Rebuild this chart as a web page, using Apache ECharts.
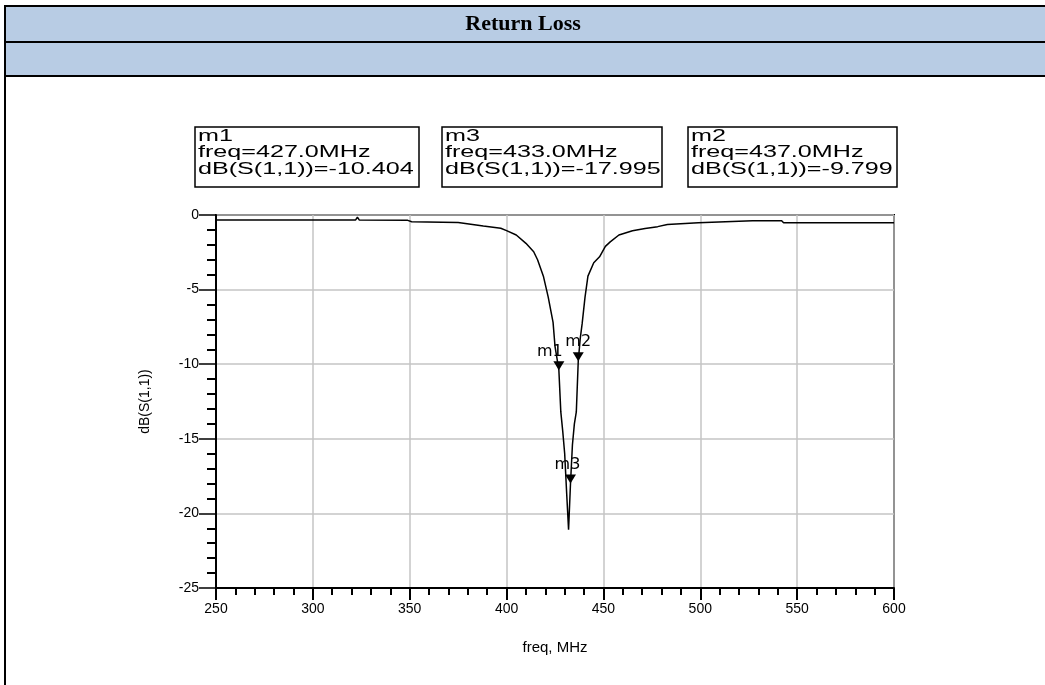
<!DOCTYPE html>
<html>
<head>
<meta charset="utf-8">
<script src="https://cdn.jsdelivr.net/npm/echarts@6/dist/echarts.min.js"></script>
<style>
html,body{margin:0;padding:0;background:#fff;}
#chart{width:1045px;height:685px;}
</style>
</head>
<body>
<div id="chart"></div>
<script>
// ---- data ----
const titleText = 'Return Loss';
const xAxisName = 'freq, MHz';
const yAxisName = 'dB(S(1,1))';
const freqMHz = [250, 322, 323, 324, 349, 351, 375, 388, 397, 400, 405, 410, 414, 416, 419, 421.5, 424, 425, 426, 427, 428, 429, 430, 431, 432, 433, 434, 435, 436, 437, 438, 439, 440.5, 442, 445, 448, 451, 453.5, 458, 465, 471.5, 478, 483, 499, 527, 542, 543, 600];
const s11dB   = [-0.34, -0.34, -0.15, -0.34, -0.36, -0.45, -0.5, -0.74, -0.89, -1.05, -1.34, -1.9, -2.46, -3.0, -4.1, -5.5, -7.2, -8.8, -9.6, -10.404, -13.2, -14.5, -16.0, -18.6, -21.1, -17.995, -15.4, -14.0, -13.2, -9.799, -8.3, -7.3, -5.5, -4.1, -3.2, -2.8, -2.1, -1.8, -1.34, -1.05, -0.9, -0.78, -0.63, -0.52, -0.38, -0.38, -0.52, -0.52];
const markerNames = ['m1', 'm3', 'm2'];
const markerFreq  = [427.0, 433.0, 437.0];
const markerDb    = [-10.404, -17.995, -9.799];
const xTicks = [250, 300, 350, 400, 450, 500, 550, 600];
const yTicks = [0, -5, -10, -15, -20, -25];

// ---- chart ----
const chart = echarts.init(document.getElementById('chart'), null, {renderer: 'canvas'});
const lineData = freqMHz.map((f, i) => [f, s11dB[i]]);
const markLabelOffsets = {m1: [-9, -14], m3: [-3, -14], m2: [0, -15]};
const markData = markerNames.map((n, i) => ({
  name: n,
  coord: [markerFreq[i], markerDb[i]],
  label: {offset: markLabelOffsets[n]}
}));

const boxes = [
  {x: 195, w: 224},
  {x: 442, w: 220},
  {x: 688, w: 209}
];
const graphics = [
  {type: 'rect', shape: {x: 5, y: 6, width: 1040, height: 70}, style: {fill: '#B8CCE4'}, z: 0},
  {type: 'line', shape: {x1: 4, y1: 6, x2: 1045, y2: 6}, style: {stroke: '#000', lineWidth: 2}},
  {type: 'line', shape: {x1: 4, y1: 42, x2: 1045, y2: 42}, style: {stroke: '#000', lineWidth: 2}},
  {type: 'line', shape: {x1: 4, y1: 76, x2: 1045, y2: 76}, style: {stroke: '#000', lineWidth: 2}},
  {type: 'line', shape: {x1: 5, y1: 5, x2: 5, y2: 685}, style: {stroke: '#000', lineWidth: 2}},
  {type: 'text', x: 523, y: 24, style: {text: titleText, font: 'bold 22px "Liberation Serif", "Times New Roman", serif', fill: '#000', align: 'center', verticalAlign: 'middle'}}
];
markerNames.forEach((n, i) => {
  const b = boxes[i];
  graphics.push({type: 'rect', shape: {x: b.x, y: 127, width: b.w, height: 60}, style: {fill: '#fff', stroke: '#000', lineWidth: 1.5}});
  graphics.push({type: 'text', x: b.x + 3, y: 128, scaleX: 1.57, style: {
    text: n + '\nfreq=' + markerFreq[i].toFixed(1) + 'MHz\ndB(S(1,1))=' + markerDb[i].toFixed(3),
    font: '16px "Liberation Sans", Arial, sans-serif', lineHeight: 16.7, fill: '#000', align: 'left', verticalAlign: 'top'}});
});

const option = {
  backgroundColor: '#fff',
  animation: false,
  grid: {left: 216, right: 151, top: 215, bottom: 97, show: true, borderColor: '#000', borderWidth: 2, backgroundColor: 'transparent'},
  xAxis: {
    type: 'value', min: xTicks[0], max: xTicks[xTicks.length - 1], interval: 50,
    name: xAxisName, nameLocation: 'middle', nameGap: 52,
    nameTextStyle: {fontFamily: '"Liberation Sans", Arial, sans-serif', fontSize: 15, color: '#000'},
    axisLine: {show: true, onZero: false, lineStyle: {color: '#000', width: 2}},
    axisTick: {show: true, inside: false, length: 12, lineStyle: {color: '#000', width: 2}},
    minorTick: {show: true, splitNumber: 5, length: 7, lineStyle: {color: '#000', width: 2}},
    axisLabel: {margin: 14, fontFamily: '"Liberation Sans", Arial, sans-serif', fontSize: 14, color: '#000'},
    splitLine: {show: true, lineStyle: {color: '#c4c4c4', width: 1.5}}
  },
  yAxis: {
    type: 'value', min: yTicks[yTicks.length - 1], max: yTicks[0], interval: 5,
    name: yAxisName, nameLocation: 'middle', nameGap: 64, nameRotate: 90,
    nameTextStyle: {fontFamily: '"Liberation Sans", Arial, sans-serif', fontSize: 14, color: '#000'},
    axisLine: {show: true, onZero: false, lineStyle: {color: '#000', width: 2}},
    axisTick: {show: true, inside: false, length: 17, lineStyle: {color: '#000', width: 1.5}},
    minorTick: {show: true, splitNumber: 5, length: 9, lineStyle: {color: '#000', width: 2}},
    axisLabel: {margin: 17, fontFamily: '"Liberation Sans", Arial, sans-serif', fontSize: 14, color: '#000', padding: [0, 0, 5, 0]},
    splitLine: {show: true, lineStyle: {color: '#c4c4c4', width: 1.5}}
  },
  series: [{
    type: 'line',
    data: lineData,
    showSymbol: false,
    symbol: 'none',
    lineStyle: {color: '#000', width: 1.5},
    z: 5,
    markPoint: {
      symbol: 'triangle',
      symbolRotate: 180,
      symbolSize: [11, 9],
      symbolOffset: [0, -4.5],
      itemStyle: {color: '#000'},
      label: {show: true, position: 'inside', formatter: '{b}', color: '#000', fontFamily: '"DejaVu Sans", sans-serif', fontSize: 16},
      data: markData
    }
  }],
  graphic: graphics
};
chart.setOption(option);
</script>
</body>
</html>
